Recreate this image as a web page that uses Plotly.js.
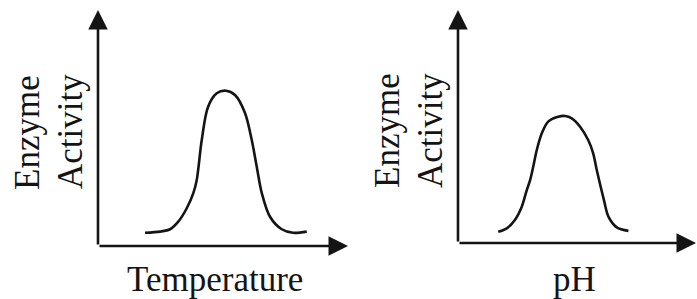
<!DOCTYPE html>
<html>
<head>
<meta charset="utf-8">
<script src="https://cdn.plot.ly/plotly-3.0.1.min.js"></script>
<style>html,body{margin:0;padding:0;background:#fff;}#chart{width:697px;height:299px;}</style>
</head>
<body>
<div id="chart"></div>
<script>
// Temperature curve (relative units)
const tempX = [1.88, 2.48, 2.88, 3.21, 3.55, 3.81, 3.95, 4.15, 4.40, 4.75, 5.12, 5.48, 5.88, 6.15, 6.35, 6.55, 6.88, 7.35, 7.80, 8.35];
const tempY = [0.56, 0.61, 0.71, 1.03, 1.60, 2.23, 2.80, 4.49, 5.89, 6.47, 6.58, 6.40, 5.64, 4.49, 3.36, 2.25, 1.24, 0.71, 0.56, 0.61];
// pH curve
const phX = [1.69, 2.05, 2.39, 2.68, 2.89, 3.03, 3.16, 3.31, 3.52, 3.79, 4.21, 4.50, 4.78, 5.13, 5.47, 5.68, 5.83, 6.13, 6.32, 6.67, 7.16];
const phY = [0.48, 0.63, 0.99, 1.56, 2.27, 2.70, 3.27, 3.99, 4.71, 5.21, 5.42, 5.45, 5.35, 4.99, 4.42, 3.85, 3.13, 1.85, 1.13, 0.67, 0.52];
const xTitles = ["Temperature", "pH"];
const yTitleLines = ["Enzyme", "Activity"];

const W = 697, H = 299;
const px = v => v / W;
const py = v => 1 - v / H;
const ink = "#141414";
const font = {family: "Liberation Serif, Times New Roman, serif", size: 35, color: ink};

const curveLine = {color: ink, width: 2.6, shape: "spline", smoothing: 0.9};
const traces = [
  {x: tempX, y: tempY, mode: "lines", line: curveLine, xaxis: "x", yaxis: "y", hoverinfo: "skip"},
  {x: phX, y: phY, mode: "lines", line: curveLine, xaxis: "x2", yaxis: "y2", hoverinfo: "skip"}
];

const ax = (dom) => ({domain: dom, range: [0, 10], showgrid: false, zeroline: false, showticklabels: false, ticks: "", showline: false, fixedrange: true});
const RANGE = 10;

function arrow(xr, yr, x0, y0, x1, y1) {
  return {xref: xr, yref: yr, axref: xr, ayref: yr, x: x1, y: y1, ax: x0, ay: y0,
    text: "", showarrow: true, arrowhead: 2, arrowsize: 1.5, arrowwidth: 2.6, arrowcolor: ink, standoff: 0, startstandoff: 0};
}
function label(text, x, y, angle) {
  return {xref: "paper", yref: "paper", x: px(x), y: py(y), xanchor: "center", yanchor: "middle",
    text: text, showarrow: false, textangle: angle, font: font};
}

const annotations = [
  arrow("x", "y", 0, 0, 0, RANGE),
  arrow("x", "y", 0, 0, RANGE, 0),
  arrow("x2", "y2", 0, 0, 0, RANGE),
  arrow("x2", "y2", 0, 0, RANGE, 0),
  label(yTitleLines[0], 28, 132, -90),
  label(yTitleLines[1], 71, 132, -90),
  label(yTitleLines[0], 388, 131, -90),
  label(yTitleLines[1], 431, 131, -90),
  label(xTitles[0], 215, 279, 0),
  label(xTitles[1], 574, 279, 0)
];

const layout = {
  width: W, height: H,
  margin: {l: 0, r: 0, t: 0, b: 0, pad: 0},
  paper_bgcolor: "#fff", plot_bgcolor: "rgba(0,0,0,0)",
  showlegend: false,
  xaxis: Object.assign(ax([px(98), px(348)]), {anchor: "y"}),
  yaxis: Object.assign(ax([py(246), py(10)]), {anchor: "x"}),
  xaxis2: Object.assign(ax([px(458), px(696)]), {anchor: "y2"}),
  yaxis2: Object.assign(ax([py(243), py(10)]), {anchor: "x2"}),
  annotations: annotations
};

Plotly.newPlot("chart", traces, layout, {displayModeBar: false, staticPlot: true});
</script>
</body>
</html>
